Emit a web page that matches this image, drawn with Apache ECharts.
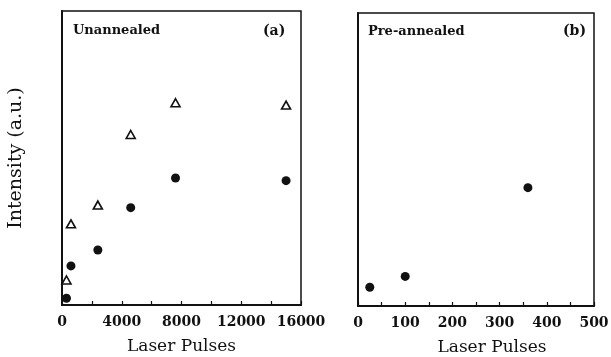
<!DOCTYPE html>
<html>
<head>
<meta charset="utf-8">
<script src="https://cdn.jsdelivr.net/npm/echarts@6/dist/echarts.min.js"></script>
<style>
  html, body { margin: 0; padding: 0; background: #fff; }
  #chart { width: 611px; height: 357px; }
</style>
</head>
<body>
<div id="chart"></div>
<script>
// Panel (a): unannealed sample, intensity vs. number of laser pulses
const pulsesA = [300, 600, 2400, 4600, 7600, 15000];
const triangleA = [8.5, 27.6, 34, 58, 68.8, 68];
const circleA = [2.3, 13.3, 18.7, 33.1, 43.2, 42.3];

// Panel (b): pre-annealed sample
const pulsesB = [25, 100, 360];
const circleB = [6.4, 10.1, 40.4];

const panelTitles = ['Unannealed', 'Pre-annealed'];
const panelTags = ['(a)', '(b)'];
const xAxisTitle = 'Laser Pulses';
const yAxisTitle = 'Intensity (a.u.)';

const SERIF = 'DejaVu Serif';
const INK = '#111';

const pairs = (xs, ys) => xs.map((x, i) => [x, ys[i]]);

function xAxisFor(gridIndex, max, interval) {
  return {
    gridIndex, type: 'value', min: 0, max, interval,
    name: xAxisTitle, nameLocation: 'middle', nameGap: 33,
    nameTextStyle: {
      fontFamily: SERIF, fontSize: 17, color: INK,
      padding: gridIndex === 1 ? [0, 0, 0, 32] : 0
    },
    axisLine: { show: true, lineStyle: { color: INK, width: 2 } },
    axisTick: { show: true, inside: true, length: 4, lineStyle: { color: INK, width: 1.2 } },
    minorTick: { show: true, splitNumber: 2, length: 4, lineStyle: { color: INK, width: 1.2 } },
    axisLabel: {
      fontFamily: SERIF, fontWeight: 'bold', fontSize: 14, color: INK, margin: 10,
      formatter: v => String(v)
    },
    splitLine: { show: false }
  };
}

function yAxisFor(gridIndex) {
  return {
    gridIndex, type: 'value', min: 0, max: 100,
    name: gridIndex === 0 ? yAxisTitle : '',
    nameLocation: 'middle', nameGap: 36,
    nameTextStyle: { fontFamily: SERIF, fontSize: 19, color: INK },
    axisLine: { show: true, lineStyle: { color: INK, width: 2 } },
    axisTick: { show: false },
    axisLabel: { show: false },
    splitLine: { show: false }
  };
}

const circleStyle = { color: INK, opacity: 1 };
const triangleStyle = { color: '#fff', borderColor: INK, borderWidth: 1.6, opacity: 1 };

const tagStyle = size => ({ fontFamily: SERIF, fontWeight: 'bold', fontSize: size, color: INK });

const gridBase = {
  show: true, borderColor: INK, borderWidth: 1.5, backgroundColor: 'transparent',
  containLabel: false, outerBoundsMode: 'none'
};

const option = {
  backgroundColor: '#fff',
  animation: false,
  grid: [
    Object.assign({ left: 62, right: 310, top: 11, bottom: 52 }, gridBase),
    Object.assign({ left: 358, right: 17, top: 13, bottom: 51 }, gridBase)
  ],
  xAxis: [xAxisFor(0, 16000, 4000), xAxisFor(1, 500, 100)],
  yAxis: [yAxisFor(0), yAxisFor(1)],
  title: [
    { text: panelTitles[0], left: 73, top: 24, padding: 0, textStyle: tagStyle(13) },
    { text: panelTags[0], left: 263, top: 24, padding: 0, textStyle: tagStyle(14) },
    { text: panelTitles[1], left: 368, top: 25, padding: 0, textStyle: tagStyle(13) },
    { text: panelTags[1], left: 563, top: 24, padding: 0, textStyle: tagStyle(14) }
  ],
  series: [
    {
      type: 'scatter', xAxisIndex: 0, yAxisIndex: 0,
      symbol: 'triangle', symbolSize: [9, 8], itemStyle: triangleStyle,
      data: pairs(pulsesA, triangleA)
    },
    {
      type: 'scatter', xAxisIndex: 0, yAxisIndex: 0,
      symbol: 'circle', symbolSize: 9, itemStyle: circleStyle,
      data: pairs(pulsesA, circleA)
    },
    {
      type: 'scatter', xAxisIndex: 1, yAxisIndex: 1,
      symbol: 'circle', symbolSize: 9, itemStyle: circleStyle,
      data: pairs(pulsesB, circleB)
    }
  ]
};

const chart = echarts.init(document.getElementById('chart'), null, { renderer: 'canvas' });
chart.setOption(option);
</script>
</body>
</html>
